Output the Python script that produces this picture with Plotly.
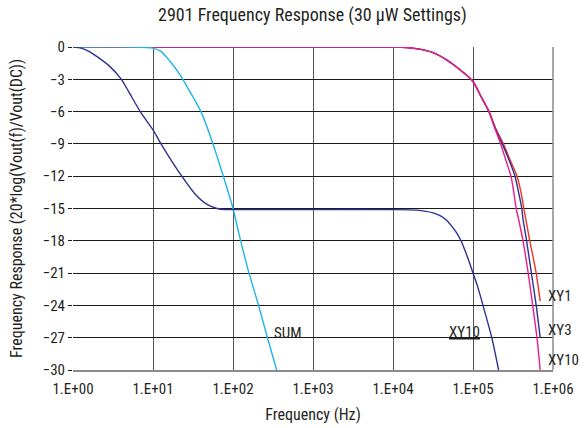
import plotly.graph_objects as go

# ---- data (frequency in Hz, response in dB) ----
xy1_freq = [1, 10, 100, 1000, 10000, 14791, 21380, 31623, 46774, 67608, 100000, 125893, 158489, 190546, 239883, 295121, 354813, 398107, 431519, 457088, 512861, 616595, 691831]
xy1_db   = [0, 0, 0, 0, 0, -0.05, -0.2, -0.53, -1.2, -2.07, -3.2, -4.6, -6.0, -7.5, -9.0, -10.6, -12.0, -13.5, -15.0, -16.0, -18.0, -21.0, -23.6]

xy3_freq = [1, 10, 100, 1000, 10000, 14791, 21380, 31623, 46774, 67608, 100000, 125893, 158489, 188365, 232274, 281838, 334965, 371535, 407380, 421697, 467735, 537032, 616595, 691831]
xy3_db   = [0, 0, 0, 0, 0, -0.05, -0.2, -0.53, -1.2, -2.07, -3.2, -4.6, -6.0, -7.5, -9.0, -10.5, -12.0, -13.5, -15.0, -16.0, -18.0, -21.0, -24.0, -27.0]

xy10_freq = [1, 10, 100, 1000, 10000, 14791, 21380, 31623, 46774, 67608, 100000, 125893, 158489, 186209, 221820, 257040, 298538, 323594, 346737, 371535, 421697, 489779, 557186, 630957, 691831]
xy10_db   = [0, 0, 0, 0, 0, -0.05, -0.2, -0.53, -1.2, -2.07, -3.2, -4.6, -6.0, -7.5, -9.0, -10.5, -12.0, -13.5, -15.0, -16.0, -18.0, -21.0, -24.0, -27.0, -30.0]

sum_freq = [1, 5, 10, 12.6, 16.2, 21.4, 28.2, 39.8, 56.2, 79.4, 100, 124.7, 158.5, 208.9, 269.2, 351.6]
sum_db   = [0, 0, -0.1, -0.4, -1.3, -2.5, -4.0, -6.0, -9.0, -12.5, -15.0, -18.0, -21.0, -24.0, -27.0, -30.0]

xy10_sum_freq = [1, 1.26, 1.58, 2.0, 2.88, 4.07, 5.01, 6.92, 10, 12.6, 15.85, 22.9, 33.1, 46.8, 63.1, 79.4, 100, 1000, 10000, 19700, 31620, 39811, 46770, 56234, 63100, 70795, 79433, 89125, 100000, 114800, 133400, 171800, 208900]
xy10_sum_db   = [0, -0.1, -0.4, -0.9, -1.8, -3.05, -4.2, -6.0, -7.7, -9.0, -10.2, -12.0, -13.6, -14.6, -15.0, -15.1, -15.1, -15.1, -15.1, -15.15, -15.4, -15.7, -16.1, -16.8, -17.3, -18.0, -18.9, -19.9, -21.0, -22.3, -24.0, -27.0, -30.0]

x_tick_vals = [1, 10, 100, 1000, 10000, 100000, 1000000]
x_tick_text = ["1.E+00", "1.E+01", "1.E+02", "1.E+03", "1.E+04", "1.E+05", "1.E+06"]
y_tick_vals = [0, -3, -6, -9, -12, -15, -18, -21, -24, -27, -30]

label_text = ["XY1", "XY3", "XY10", "SUM", "<u>XY10</u>"]
label_x = [5.91, 5.91, 5.91, 2.49, 4.68]      # log10(Hz)
label_y = [-23.1, -26.3, -29.1, -26.6, -26.5]  # dB

RED = "#EE3124"
BLUE = "#2E3192"
MAGENTA = "#EC1C8C"
CYAN = "#1CB5E8"
TXT = "#231F20"
FONT = "Liberation Sans Narrow, Arial Narrow, Roboto Condensed, Liberation Sans, sans-serif"

fig = go.Figure()
def add_line(xs, ys, color, name):
    fig.add_trace(go.Scatter(x=xs, y=ys, mode="lines", name=name, hoverinfo="skip",
                             line=dict(color=color, width=1.4, shape="spline", smoothing=0.6)))

add_line(xy1_freq, xy1_db, RED, "XY1")
add_line(xy3_freq, xy3_db, BLUE, "XY3")
add_line(xy10_freq, xy10_db, MAGENTA, "XY10")
add_line(sum_freq, sum_db, CYAN, "SUM")
add_line(xy10_sum_freq, xy10_sum_db, BLUE, "XY10 (SUM)")

fig.update_layout(
    width=585, height=428,
    margin=dict(l=73, r=32, t=47, b=58, autoexpand=False),
    paper_bgcolor="white", plot_bgcolor="white",
    showlegend=False,
    font=dict(family=FONT, size=15, color=TXT),
    title=dict(text="2901 Frequency Response (30 \u03bcW Settings)", x=0.534, xanchor="center",
               xref="container", y=1 - 15 / 428, yanchor="middle", yref="container",
               font=dict(family=FONT, size=18, color=TXT)),
    xaxis=dict(type="log", range=[0, 6], tickvals=x_tick_vals, ticktext=x_tick_text,
               showgrid=True, gridcolor="#555555", gridwidth=1.3,
               showline=True, linecolor="#8a8a8a", linewidth=1.5, mirror=False,
               ticks="", zeroline=False, automargin=False, ticklabelstandoff=4,
               title=dict(text="Frequency (Hz)", font=dict(family=FONT, size=16, color=TXT), standoff=12),
               tickfont=dict(family=FONT, size=15, color=TXT)),
    yaxis=dict(range=[-30, 0], tickvals=y_tick_vals,
               showgrid=True, gridcolor="#1a1a1a", gridwidth=1,
               showline=False, zeroline=False, automargin=False,
               ticks="outside", ticklen=4, tickcolor="#1a1a1a",
               title=dict(text="Frequency Response (20*log(Vout(f)/Vout(DC))", font=dict(family=FONT, size=16, color=TXT), standoff=16),
               tickfont=dict(family=FONT, size=15, color=TXT)),
)

# right border line
fig.add_shape(type="line", xref="paper", yref="paper", x0=1, x1=1, y0=0, y1=1,
              line=dict(color="#8a8a8a", width=1.5))

for text, lx, ly in zip(label_text, label_x, label_y):
    fig.add_annotation(x=lx, y=ly, xref="x", yref="y", text=text, showarrow=False,
                       xanchor="left", yanchor="middle", font=dict(family=FONT, size=15, color=TXT))

fig.write_html("out.html", config={"displayModeBar": False},
               post_script="document.body.style.margin='0';")
